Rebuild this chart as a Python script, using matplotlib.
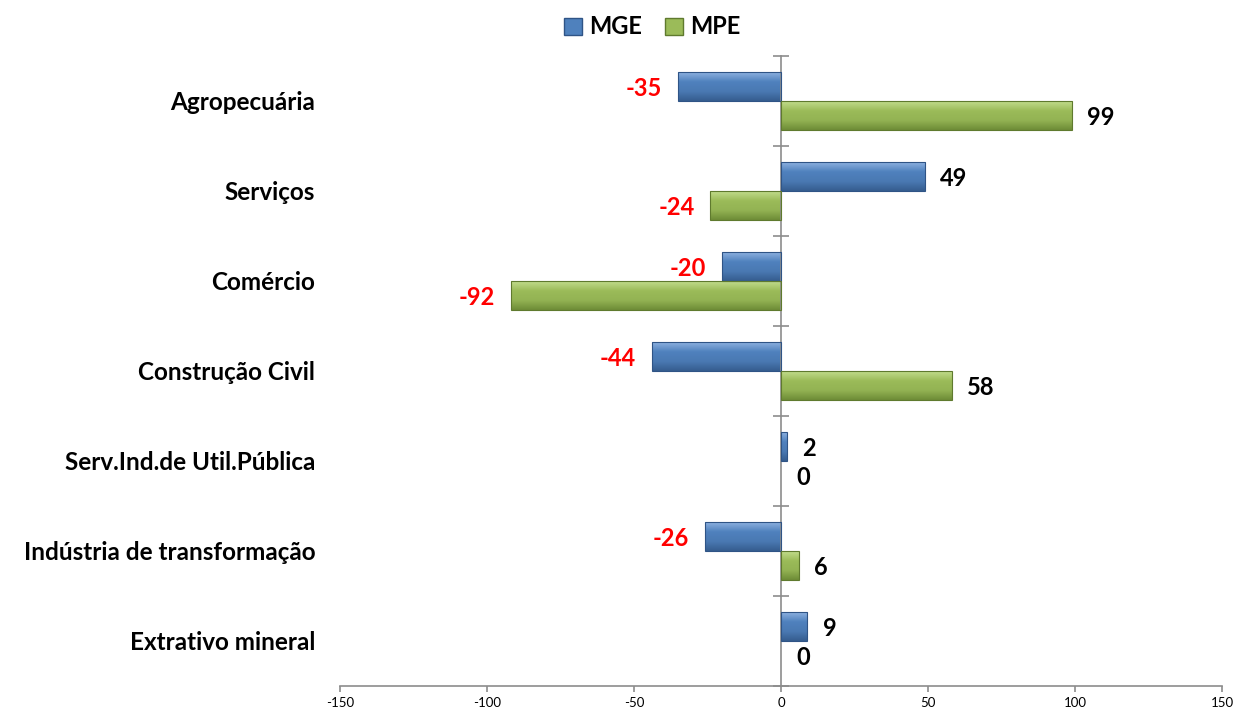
import numpy as np
import matplotlib.pyplot as plt
from matplotlib.patches import Patch
from matplotlib.colors import LinearSegmentedColormap
import matplotlib.transforms as mtransforms

plt.rcParams['font.family'] = ['Lato', 'DejaVu Sans']

# Data (top to bottom)
categories = ["Agropecuária", "Serviços", "Comércio", "Construção Civil",
              "Serv.Ind.de Util.Pública", "Indústria de transformação",
              "Extrativo mineral"]
mge = [-35, 49, -20, -44, 2, -26, 9]
mpe = [99, -24, -92, 58, 0, 6, 0]
series_names = ["MGE", "MPE"]
xticks = [-150, -100, -50, 0, 50, 100, 150]

blue = ["#8db1e0", "#4f81bd", "#4a79b3", "#365d8f"]
green = ["#c2dc8c", "#9bbb59", "#93b353", "#6e8c37"]
blue_edge = "#2f5486"
green_edge = "#5f7a2e"

fig = plt.figure(figsize=(12.37, 7.14), dpi=100)
ax = fig.add_axes([340 / 1237, 28 / 714, 882 / 1237, 630 / 714])

n = len(categories)
ypos = np.arange(n)[::-1]
h = 0.32
off = 0.16


def gradient_bars(bars, colors, edge):
    cmap = LinearSegmentedColormap.from_list("g", colors)
    grad = np.linspace(0, 1, 64).reshape(-1, 1)
    for b in bars:
        b.set_edgecolor(edge)
        b.set_linewidth(0.8)
        x0, y0 = b.get_x(), b.get_y()
        w, hh = b.get_width(), b.get_height()
        if w == 0:
            b.set_visible(False)
            continue
        im = ax.imshow(grad, cmap=cmap, aspect='auto', origin='upper',
                       extent=[x0, x0 + w, y0, y0 + hh], zorder=2.5,
                       interpolation='bicubic')
        im.set_clip_path(b)


b1 = ax.barh(ypos + off, mge, height=h, zorder=2)
b2 = ax.barh(ypos - off, mpe, height=h, zorder=2)
gradient_bars(b1, blue, blue_edge)
gradient_bars(b2, green, green_edge)
for b in list(b1) + list(b2):
    b.set_zorder(3)
    b.set_facecolor('none')

# value labels
for vals, dy in ((mge, off), (mpe, -off)):
    for y, v in zip(ypos, vals):
        if v < 0:
            ax.annotate(str(v), (v, y + dy), xytext=(-11.5, -1.5), textcoords='offset points',
                        ha='right', va='center', color='#ff0000', fontsize=17,
                        fontweight='bold')
        else:
            ax.annotate(str(v), (v, y + dy), xytext=(11, -1.5), textcoords='offset points',
                        ha='left', va='center', color='black', fontsize=17,
                        fontweight='bold')

# category labels
trans = mtransforms.blended_transform_factory(ax.transAxes, ax.transData)
for y, c in zip(ypos, categories):
    ax.text(-0.028, y - 0.02, c, transform=trans, ha='right', va='center',
            fontsize=17.5, fontweight='bold')

ax.set_xlim(-150, 150)
ax.set_ylim(-0.5, n - 0.5)
ax.set_xticks(xticks)
ax.set_xticklabels([str(t) for t in xticks], fontsize=9.5)
ax.set_yticks(np.arange(n + 1) - 0.5)
ax.set_yticklabels([])
for s in ('top', 'right'):
    ax.spines[s].set_visible(False)
ax.spines['left'].set_position(('data', 0))
ax.spines['left'].set_color('#8c8c8c')
ax.spines['bottom'].set_color('#8c8c8c')
ax.spines['left'].set_linewidth(1.2)
ax.spines['bottom'].set_linewidth(1.2)
ax.tick_params(axis='y', direction='inout', length=12, color='#8c8c8c', width=1.2)
ax.tick_params(axis='x', direction='out', length=4, color='#8c8c8c', width=1.2, pad=4)

handles = [Patch(facecolor=blue[1], edgecolor=blue_edge, label=series_names[0]),
           Patch(facecolor=green[1], edgecolor=green_edge, label=series_names[1])]
fig.legend(handles=handles, loc='center', bbox_to_anchor=(652 / 1237, 1 - 27 / 714),
           ncol=2, frameon=False, prop={'weight': 'bold', 'size': 17},
           handlelength=0.75, handleheight=0.75, handletextpad=0.3, columnspacing=1.0)

fig.savefig("out.png", dpi=100)
